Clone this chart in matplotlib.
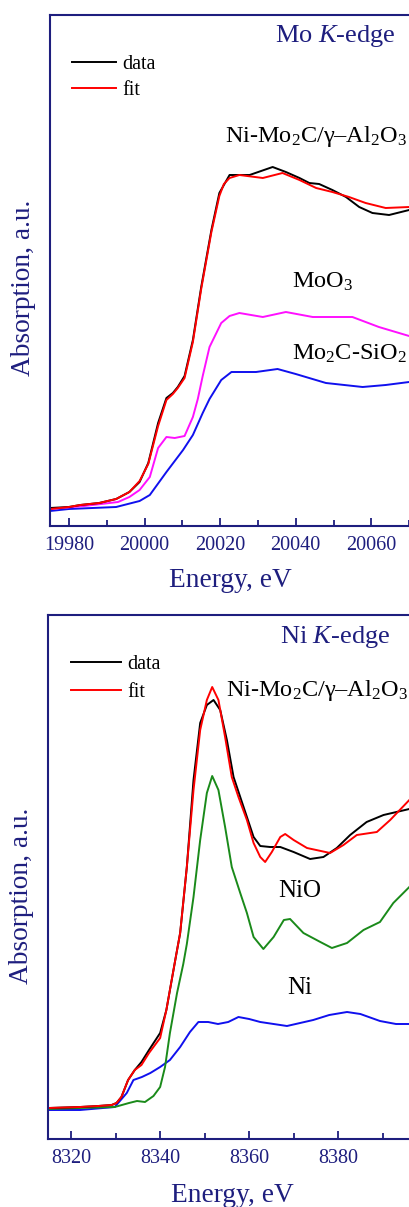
import matplotlib
matplotlib.use("Agg")
import matplotlib.pyplot as plt
from matplotlib.ticker import MultipleLocator

plt.rcParams['font.family'] = ['Liberation Serif', 'DejaVu Serif']
plt.rcParams['mathtext.fontset'] = 'custom'
plt.rcParams['mathtext.rm'] = 'Liberation Serif'
plt.rcParams['mathtext.it'] = 'Liberation Serif:italic'

NAVY = '#1e1e7e'
W, H = 409, 1207

# ---- Mo K-edge (top panel) ----
mo_data_e = [19975, 19980, 19983, 19988, 19992.5, 19996, 19998.7, 20001, 20003.6, 20005.8,
             20007.5, 20008.8, 20010.6, 20012.8, 20015, 20017.7, 20019.8, 20022.5, 20027.8,
             20033.9, 20037.4, 20041, 20043.6, 20046.2, 20049.7, 20053.3, 20056.8, 20060.3,
             20064.7, 20070]
mo_data_a = [0.18, 0.19, 0.21, 0.23, 0.27, 0.34, 0.44, 0.63, 1.03, 1.28,
             1.33, 1.39, 1.50, 1.86, 2.39, 2.96, 3.33, 3.51, 3.51,
             3.59, 3.54, 3.48, 3.43, 3.42, 3.36, 3.29, 3.19, 3.13,
             3.11, 3.16]
mo_fit_e = [19975, 19980, 19983, 19988, 19992.5, 19996, 19998.7, 20001, 20003.6, 20005.8,
            20007.5, 20008.8, 20010.6, 20012.8, 20015, 20017.7, 20019.8, 20021, 20022.5,
            20025.1, 20031.3, 20036.5, 20041, 20045.4, 20049.7, 20054.1, 20058.5, 20063.8, 20070]
mo_fit_a = [0.17, 0.19, 0.21, 0.23, 0.27, 0.34, 0.45, 0.62, 1.00, 1.26,
            1.32, 1.38, 1.48, 1.84, 2.37, 2.94, 3.30, 3.42, 3.48,
            3.51, 3.48, 3.53, 3.46, 3.38, 3.34, 3.29, 3.23, 3.18, 3.19]
moo3_e = [19975, 19984, 19993, 19996, 19998.7, 20001.4, 20003.6, 20005.8, 20008, 20010.6,
          20012.8, 20014.1, 20015.4, 20017.2, 20020.3, 20022.5, 20025.1, 20031.3, 20037.4,
          20044.5, 20055, 20062, 20070]
moo3_a = [0.17, 0.20, 0.24, 0.29, 0.36, 0.49, 0.78, 0.89, 0.88, 0.90,
          1.09, 1.27, 1.50, 1.79, 2.03, 2.10, 2.13, 2.09, 2.14,
          2.09, 2.09, 1.99, 1.90]
mo2c_e = [19975, 19980, 19992.5, 19998.7, 20001.4, 20005.8, 20010.2, 20012.8, 20015.4, 20017.2,
          20020.3, 20023, 20029.5, 20035.2, 20040, 20048, 20057.7, 20063.8, 20070]
mo2c_a = [0.15, 0.17, 0.19, 0.25, 0.31, 0.54, 0.76, 0.91, 1.13, 1.27,
          1.46, 1.54, 1.54, 1.57, 1.52, 1.43, 1.39, 1.41, 1.44]

# ---- Ni K-edge (bottom panel) ----
ni_data_e = [8315, 8322, 8326.1, 8329.1, 8330.2, 8331.3, 8332.8, 8334.3, 8335.8, 8337.5,
             8340, 8341.4, 8342.6, 8343.4, 8344.5, 8346, 8347.5, 8349, 8350.5, 8352,
             8353.5, 8355, 8356.5, 8358, 8359.5, 8361, 8362.5, 8364.7, 8367, 8370,
             8373.7, 8376.7, 8379.7, 8382.7, 8386.4, 8390.2, 8396, 8398]
ni_data_a = [0.31, 0.32, 0.33, 0.34, 0.36, 0.42, 0.59, 0.69, 0.77, 0.89,
             1.06, 1.29, 1.59, 1.79, 2.06, 2.72, 3.59, 4.16, 4.34, 4.39,
             4.29, 3.99, 3.62, 3.42, 3.22, 3.02, 2.93, 2.92, 2.92, 2.87,
             2.80, 2.82, 2.91, 3.04, 3.17, 3.24, 3.30, 3.31]
ni_fit_e = [8315, 8322, 8326.1, 8329.1, 8330.2, 8331.3, 8332.8, 8334.3, 8335.8, 8337.5,
            8340, 8341.4, 8342.6, 8343.4, 8344.5, 8346, 8347.5, 8349, 8350.5, 8351.7,
            8353.1, 8354.6, 8356.1, 8357.6, 8359.5, 8361, 8362.5, 8363.6, 8365.1, 8367,
            8368.1, 8370, 8373, 8378.2, 8381.2, 8384.2, 8388.7, 8391.7, 8396, 8398]
ni_fit_a = [0.31, 0.32, 0.33, 0.34, 0.36, 0.42, 0.59, 0.69, 0.74, 0.86,
            1.01, 1.29, 1.59, 1.79, 2.06, 2.72, 3.49, 4.09, 4.39, 4.52,
            4.39, 4.02, 3.62, 3.42, 3.19, 2.96, 2.82, 2.77, 2.87, 3.02,
            3.05, 2.99, 2.91, 2.86, 2.94, 3.04, 3.07, 3.19, 3.39, 3.48]
nio_e = [8315, 8322, 8329.8, 8333, 8334.8, 8336.6, 8338.5, 8340, 8341.1, 8342.2,
         8343.8, 8345.2, 8346, 8347.5, 8349, 8350.5, 8351.7, 8353.1, 8354.6, 8356.1,
         8358, 8359.5, 8361, 8363.2, 8365.5, 8367.8, 8369.2, 8372.2, 8376, 8378.6,
         8382, 8385.7, 8389.4, 8392.4, 8396, 8398]
nio_a = [0.30, 0.31, 0.32, 0.36, 0.38, 0.37, 0.43, 0.52, 0.72, 1.06,
         1.46, 1.75, 1.95, 2.42, 2.99, 3.46, 3.63, 3.49, 3.12, 2.72,
         2.46, 2.26, 2.02, 1.90, 2.02, 2.19, 2.20, 2.06, 1.97, 1.91,
         1.96, 2.09, 2.17, 2.36, 2.52, 2.62]
ni_e = [8315, 8322, 8329.8, 8332.5, 8334, 8335.9, 8337.8, 8340, 8342.2, 8344.5,
        8346.7, 8348.6, 8350.8, 8353, 8355.3, 8357.6, 8360, 8362.5, 8368.5, 8374.4,
        8378, 8382, 8385, 8389.4, 8393, 8398]
ni_a = [0.29, 0.29, 0.32, 0.46, 0.59, 0.62, 0.66, 0.72, 0.79, 0.92,
        1.07, 1.17, 1.17, 1.15, 1.17, 1.22, 1.20, 1.17, 1.13, 1.19,
        1.24, 1.27, 1.25, 1.18, 1.15, 1.15]


def px_box(left, top, right, bottom):
    return [left / W, 1 - bottom / H, (right - left) / W, (bottom - top) / H]


def style_axes(ax, xmin, xmax, ymax):
    ax.set_xlim(xmin, xmax)
    ax.set_ylim(0, ymax)
    ax.set_yticks([])
    ax.xaxis.set_major_locator(MultipleLocator(20))
    ax.xaxis.set_minor_locator(MultipleLocator(10))
    ax.tick_params(axis='x', which='both', direction='in', colors=NAVY,
                   labelsize=14.5, pad=7, top=False)
    ax.tick_params(axis='x', which='major', length=6, width=1.3)
    ax.tick_params(axis='x', which='minor', length=4, width=1.3)
    for s in ['left', 'bottom', 'top']:
        ax.spines[s].set_color(NAVY)
        ax.spines[s].set_linewidth(1.5)
    ax.spines['right'].set_visible(False)


def ftext(x, y, s, **kw):
    fig.text(x / W, 1 - y / H, s, **kw)


fig = plt.figure(figsize=(W / 100, H / 100), dpi=100)
lw = 1.4

# top panel
ax1 = fig.add_axes(px_box(50, 15, 411, 526))
style_axes(ax1, 19975, 20070.5, 5.11)
ax1.plot(mo2c_e, mo2c_a, color='#1010ee', lw=lw)
ax1.plot(moo3_e, moo3_a, color='#ff10ff', lw=lw)
ax1.plot(mo_data_e, mo_data_a, color='black', lw=lw, label='data')
ax1.plot(mo_fit_e, mo_fit_a, color='#ff0000', lw=lw, label='fit')
ax1.legend(loc='upper left', bbox_to_anchor=(0.039, 0.937), frameon=False,
           fontsize=14.5, handlelength=2.2, handletextpad=0.3, labelspacing=0.35,
           borderaxespad=0)

# bottom panel
ax2 = fig.add_axes(px_box(48, 615, 416, 1139))
style_axes(ax2, 8314.8, 8397.5, 5.24)
ax2.plot(ni_e, ni_a, color='#1010ee', lw=lw)
ax2.plot(nio_e, nio_a, color='#1a8a1a', lw=lw)
ax2.plot(ni_data_e, ni_data_a, color='black', lw=lw, label='data')
ax2.plot(ni_fit_e, ni_fit_a, color='#ff0000', lw=lw, label='fit')
ax2.legend(loc='upper left', bbox_to_anchor=(0.04, 0.94), frameon=False,
           fontsize=14.5, handlelength=2.5, handletextpad=0.3, labelspacing=0.45,
           borderaxespad=0)

# titles / labels
ftext(275, 41.7, 'Mo $\\mathit{K}$-edge', color=NAVY, fontsize=19, va='baseline')
ftext(280, 643.3, 'Ni $\\mathit{K}$-edge', color=NAVY, fontsize=19, va='baseline')

ftext(230, 586.7, 'Energy, eV', color=NAVY, fontsize=19.7, ha='center', va='baseline')
ftext(232, 1201.7, 'Energy, eV', color=NAVY, fontsize=19.7, ha='center', va='baseline')
ftext(24, 288, 'Absorption, a.u.', color=NAVY, fontsize=19.7, rotation=90,
      ha='center', va='center')
ftext(22, 896, 'Absorption, a.u.', color=NAVY, fontsize=19.7, rotation=90,
      ha='center', va='center')

# sample annotations
ftext(225, 141.7, 'Ni-Mo$_2$C/γ–Al$_2$O$_3$', fontsize=17.5, va='baseline')
ftext(292, 288, 'MoO$_3$', fontsize=17.5, va='baseline')
ftext(292, 360, 'Mo$_2$C-SiO$_2$', fontsize=17.5, va='baseline')
ftext(226, 696, 'Ni-Mo$_2$C/γ–Al$_2$O$_3$', fontsize=17.5, va='baseline')
ftext(278, 896.7, 'NiO', fontsize=18, va='baseline')
ftext(287, 994, 'Ni', fontsize=18, va='baseline')

fig.savefig('out.png', dpi=100)
